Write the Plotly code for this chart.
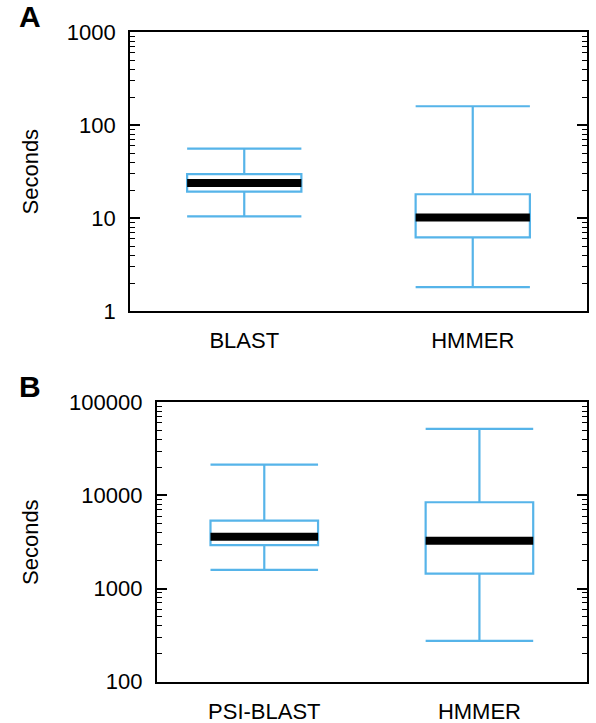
import plotly.graph_objects as go

# Panel A: search time per query (seconds)
cats_a = ["BLAST", "HMMER"]
lowf_a = [10.4, 1.81]
q1_a = [19.2, 6.2]
med_a = [23.8, 10.1]
q3_a = [29.7, 18.0]
upf_a = [55.6, 159.0]
yticks_a = [1, 10, 100, 1000]

# Panel B: iterative search time (seconds)
cats_b = ["PSI-BLAST", "HMMER"]
lowf_b = [1585, 274]
q1_b = [2920, 1445]
med_b = [3610, 3270]
q3_b = [5360, 8450]
upf_b = [21400, 51800]
yticks_b = [100, 1000, 10000, 100000]

BLUE = "#56B4E9"
FONT = "Liberation Sans, Arial, Helvetica, sans-serif"
W, H = 596, 723

fig = go.Figure()


def add_panel(cats, lowf, q1, med, q3, upf, xa, ya):
    pos = list(range(len(cats)))
    fig.add_trace(go.Box(
        x=pos, q1=q1, median=med, q3=q3, lowerfence=lowf, upperfence=upf,
        width=0.5, whiskerwidth=1, boxpoints=False,
        line=dict(color=BLUE, width=2.2), fillcolor="rgba(0,0,0,0)",
        xaxis=xa, yaxis=ya, showlegend=False, hoverinfo="skip",
    ))
    mx, my = [], []
    for p, m in zip(pos, med):
        mx += [p - 0.25, p + 0.25, None]
        my += [m, m, None]
    fig.add_trace(go.Scatter(
        x=mx, y=my, mode="lines", line=dict(color="black", width=8),
        xaxis=xa, yaxis=ya, showlegend=False, hoverinfo="skip",
    ))


add_panel(cats_a, lowf_a, q1_a, med_a, q3_a, upf_a, "x", "y")
add_panel(cats_b, lowf_b, q1_b, med_b, q3_b, upf_b, "x2", "y2")

tickfont = dict(family=FONT, size=22, color="black")


def xaxis(dom, cats, anchor):
    return dict(
        domain=dom, anchor=anchor, range=[-0.5, 1.5], automargin=False,
        tickvals=list(range(len(cats))), ticktext=cats, ticks="",
        showline=True, linecolor="black", linewidth=1.6, mirror=True,
        showgrid=False, zeroline=False, tickfont=tickfont,
        ticklabelstandoff=9,
    )


def yaxis(dom, ticks, anchor):
    lo, hi = len(str(ticks[0])) - 1, len(str(ticks[-1])) - 1
    return dict(
        domain=dom, anchor=anchor, type="log", range=[lo, hi], automargin=False,
        tickvals=ticks, ticktext=[str(t) for t in ticks],
        ticks="inside", ticklen=10, tickwidth=1.5,
        tickcolor="black", showline=True, linecolor="black", linewidth=1.6,
        mirror="ticks", showgrid=False, zeroline=False, tickfont=tickfont,
        ticklabelstandoff=8,
        minor=dict(ticks="inside", ticklen=5, tickwidth=1.2,
                   tickcolor="black", dtick="D1", showgrid=False),
    )


fig.update_layout(
    width=W, height=H, margin=dict(l=0, r=0, t=0, b=0),
    paper_bgcolor="white", plot_bgcolor="white",
    font=dict(family=FONT, color="black"),
    xaxis=xaxis([130 / W, 587 / W], cats_a, "y"),
    yaxis=yaxis([1 - 311 / H, 1 - 32 / H], yticks_a, "x"),
    xaxis2=xaxis([156.7 / W, 587 / W], cats_b, "y2"),
    yaxis2=yaxis([1 - 681.7 / H, 1 - 402.3 / H], yticks_b, "x2"),
    annotations=[
        dict(text="<b>A</b>", x=17 / W, y=1 - 35 / H, xref="paper", yref="paper",
             xanchor="left", yanchor="bottom", showarrow=False,
             font=dict(family=FONT, size=30, color="black")),
        dict(text="<b>B</b>", x=17 / W, y=1 - 405 / H, xref="paper", yref="paper",
             xanchor="left", yanchor="bottom", showarrow=False,
             font=dict(family=FONT, size=30, color="black")),
        dict(text="Seconds", x=30 / W, y=1 - 171.5 / H, xref="paper", yref="paper",
             xanchor="center", yanchor="middle", textangle=-90, showarrow=False,
             font=dict(family=FONT, size=22, color="black")),
        dict(text="Seconds", x=30 / W, y=1 - 542 / H, xref="paper", yref="paper",
             xanchor="center", yanchor="middle", textangle=-90, showarrow=False,
             font=dict(family=FONT, size=22, color="black")),
    ],
)

fig.write_html("out.html")
